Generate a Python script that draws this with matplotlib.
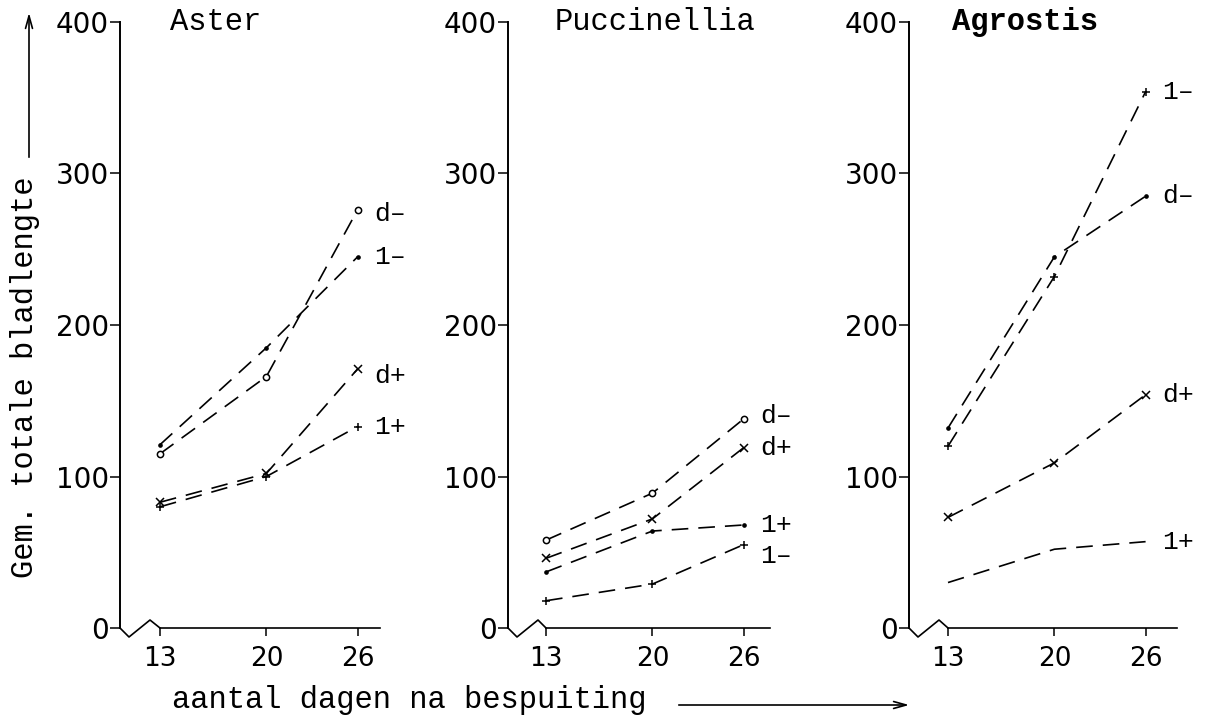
from __future__ import annotations

import matplotlib

matplotlib.use("Agg")
from matplotlib import pyplot as plt

# x values (days after spraying)
DAYS = [13, 20, 26]
Y_TICKS = [0, 100, 200, 300, 400]

# Aster
ASTER_D_MIN = [115, 166, 276]
ASTER_L_MIN = [121, 185, 245]
ASTER_D_PLUS = [83, 102, 171]
ASTER_L_PLUS = [80, 100, 133]

# Puccinellia
PUCC_D_MIN = [58, 89, 138]
PUCC_D_PLUS = [46, 72, 119]
PUCC_L_PLUS = [37, 64, 68]
PUCC_L_MIN = [18, 29, 55]

# Agrostis
AGRO_L_MIN = [120, 232, 354]
AGRO_D_MIN = [132, 245, 285]
AGRO_D_PLUS = [73, 109, 154]
AGRO_L_PLUS = [30, 52, 57]

PANELS = [
    ("Aster", [("d–", ASTER_D_MIN), ("1–", ASTER_L_MIN), ("d+", ASTER_D_PLUS), ("1+", ASTER_L_PLUS)]),
    ("Puccinellia", [("d–", PUCC_D_MIN), ("d+", PUCC_D_PLUS), ("1+", PUCC_L_PLUS), ("1–", PUCC_L_MIN)]),
    ("Agrostis", [("1–", AGRO_L_MIN), ("d–", AGRO_D_MIN), ("d+", AGRO_D_PLUS), ("1+", AGRO_L_PLUS)]),
]

# styling per panel / series
MARKERS = {
    "Aster": {"d–": "o", "1–": ".", "d+": "x", "1+": "+"},
    "Puccinellia": {"d–": "o", "d+": "x", "1+": ".", "1–": "+"},
    "Agrostis": {"1–": "+", "d–": ".", "d+": "x", "1+": ""},
}
LABEL_NUDGE = {("Aster", "d–"): -3, ("Aster", "d+"): -5, ("Puccinellia", "d–"): 2, ("Puccinellia", "1–"): -8}

W, H = 1205, 722
BOTTOM_PX, HEIGHT_PX = 94, 606
PX_PER_DAY = 15.2
# (axis left px, axis right px, px of day 13, title left px)
PANEL_PX = [(120, 380, 160, 170), (508, 770, 546, 555), (909, 1177, 948, 952)]

MONO = "Liberation Mono"
SANS = "DejaVu Sans"


def main() -> None:
    fig = plt.figure(figsize=(W / 100, H / 100), dpi=100)
    fig.patch.set_facecolor("white")

    for (name, series), (left, right, x13, title_x) in zip(PANELS, PANEL_PX):
        ax = fig.add_axes([left / W, BOTTOM_PX / H, (right - left) / W, HEIGHT_PX / H])
        xmin = 13 - (x13 - left) / PX_PER_DAY
        xmax = xmin + (right - left) / PX_PER_DAY
        ax.set_xlim(xmin, xmax)
        ax.set_ylim(0, 400)

        for label, vals in series:
            marker = MARKERS[name][label]
            ax.plot(
                DAYS, vals, color="black", linewidth=1.2, dashes=(10, 6),
                marker=marker if marker else None, markersize=6 if marker in "x+" else 4.5,
                markerfacecolor="white" if marker == "o" else "black",
                markeredgecolor="black", markeredgewidth=1.1, clip_on=False,
            )
            ax.annotate(
                label, xy=(DAYS[-1], vals[-1]), xytext=(12, LABEL_NUDGE.get((name, label), 0)),
                textcoords="offset points", ha="left", va="center",
                fontsize=19, family=MONO,
            )

        # axis break zigzag between the y-axis and day 13
        ypx = HEIGHT_PX / 400
        ax.plot(
            [xmin, xmin + 9 / PX_PER_DAY, xmin + 30 / PX_PER_DAY, 13],
            [0, -9 / ypx, 8 / ypx, 0],
            color="black", linewidth=1.2, clip_on=False,
        )

        ax.spines["top"].set_visible(False)
        ax.spines["right"].set_visible(False)
        ax.spines["left"].set_linewidth(1.4)
        ax.spines["bottom"].set_linewidth(1.2)
        ax.spines["bottom"].set_bounds(13, xmax)

        ax.set_xticks(DAYS)
        ax.set_xticklabels([str(d) for d in DAYS], fontsize=19, family=SANS)
        ax.set_yticks(Y_TICKS)
        ax.set_yticklabels([str(v) for v in Y_TICKS], fontsize=20, family=SANS)
        ax.tick_params(axis="y", direction="out", length=7, width=1.1, pad=1)
        ax.tick_params(axis="x", direction="out", length=6, width=1.1, pad=7)

        ax.text(
            (title_x - left) / (right - left), 1.0, name, transform=ax.transAxes,
            ha="left", va="center", fontsize=22, family=MONO,
            fontweight="bold" if name == "Agrostis" else "normal",
        )

    fig.text(25 / W, 1 - 377 / H, "Gem. totale bladlengte", rotation=90,
             ha="center", va="center", fontsize=22, family=MONO)
    fig.text(409 / W, 1 - 700 / H, "aantal dagen na bespuiting",
             ha="center", va="center", fontsize=22, family=MONO)

    # arrows next to the axis titles, in figure pixel coordinates
    plt.annotate("", xy=(29, H - 10), xytext=(29, H - 160), xycoords="figure pixels",
                 arrowprops=dict(arrowstyle="->,head_length=0.9,head_width=0.25", lw=1.2, color="black"))
    plt.annotate("", xy=(912, H - 705), xytext=(676, H - 705), xycoords="figure pixels",
                 arrowprops=dict(arrowstyle="->,head_length=0.9,head_width=0.25", lw=1.2, color="black"))

    fig.savefig("out.png", dpi=100)


if __name__ == "__main__":
    main()
